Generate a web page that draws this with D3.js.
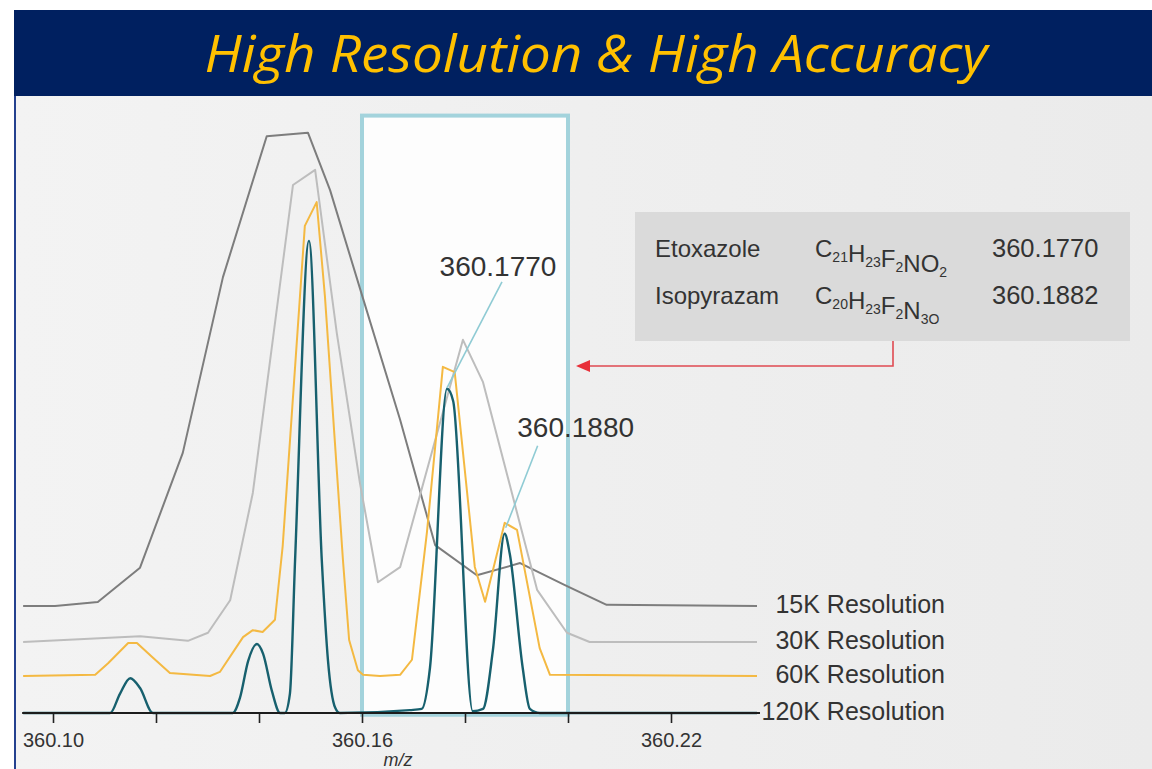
<!DOCTYPE html>
<html>
<head>
<meta charset="utf-8">
<script src="https://cdn.jsdelivr.net/npm/d3@7"></script>
<style>
    body { margin: 0; background: #ffffff; }
    svg { display: block; font-family: "Liberation Sans", Arial, sans-serif; }
</style>
</head>
<body>
<div id="chart"></div>
<script>
var svgWidth = 1152;
var svgHeight = 769;

// Series
var seriesNames = ["15K Resolution", "30K Resolution", "60K Resolution", "120K Resolution"];
var seriesOffsets = [18.45, 12.24, 6.38, 0];

var mz15 = [360.0942, 360.1004, 360.1087, 360.1169, 360.1252, 360.1330, 360.1415, 360.1495, 360.1538,
    360.1600, 360.1674, 360.1742, 360.1823, 360.1907, 360.1994, 360.2075, 360.2367];
var int15 = [0, 0, 0.7, 6.6, 26.4, 56.7, 81.0, 81.6, 71.7, 53.6, 32.1, 10.5, 5.3, 7.4, 3.6, 0.2, 0];

var mz30 = [360.0942, 360.1169, 360.1262, 360.1301, 360.1344, 360.1388, 360.1466, 360.1509, 360.1551,
    360.1596, 360.1631, 360.1674, 360.1796, 360.1835, 360.1940, 360.1998, 360.2042, 360.2367];
var int30 = [0, 1.0, 0.2, 1.6, 7.2, 25.7, 78.8, 81.4, 53.3, 27.4, 10.3, 12.9, 52.1, 44.8, 9.0, 1.6, 0, 0];

var mz60 = [360.0942, 360.1082, 360.1107, 360.1146, 360.1163, 360.1192, 360.1227, 360.1305, 360.1324,
    360.1369, 360.1388, 360.1407, 360.1431, 360.1446, 360.1489, 360.1512, 360.1528, 360.1563, 360.1575,
    360.1592, 360.1602, 360.1635, 360.1674, 360.1697, 360.1726, 360.1757, 360.1780, 360.1819, 360.1839,
    360.1877, 360.1901, 360.1945, 360.1965, 360.2367];
var int60 = [0, 0.2, 2.2, 5.7, 5.7, 3.3, 0.5, 0, 0.7, 6.7, 7.9, 7.6, 9.7, 22.4, 77.6, 81.7, 65.5, 20.0, 6.2,
    1.0, 0.2, 0, 0.2, 2.8, 24.7, 53.3, 52.4, 18.8, 12.8, 26.4, 25.2, 4.8, 0.2, 0];

var mz120 = [360.0942, 360.1111, 360.1130, 360.1150, 360.1169, 360.1194, 360.1349, 360.1363, 360.1379,
    360.1396, 360.1408, 360.1425, 360.1441, 360.1450, 360.1460, 360.1470, 360.1497, 360.1522, 360.1534,
    360.1548, 360.1557, 360.1693, 360.1716, 360.1732, 360.1765, 360.1777, 360.1815, 360.1835, 360.1854,
    360.1877, 360.1887, 360.1912, 360.1926, 360.1945, 360.2367];
var int120 = [0, 0, 3.3, 6.0, 4.3, 0, 0, 2.6, 9.0, 11.9, 10.2, 3.8, 0, 0, 3.3, 26.2, 81.4, 26.2, 9.0,
    0.9, 0, 0.5, 0.7, 7.8, 55.9, 53.8, 0.3, 0.7, 10.7, 30.9, 27.4, 7.8, 0.7, 0, 0];

// Axis ticks
var tickValues = [360.10, 360.12, 360.14, 360.16, 360.18, 360.20, 360.22];
var tickLabels = ["360.10", "", "", "360.16", "", "", "360.22"];

// Highlight window and peak labels
var windowMz = [360.16, 360.20];
var windowTop = 103;
var peakMz = [360.1765, 360.1877];
var peakInt = [55.9, 30.9];
var peakText = ["360.1770", "360.1880"];

// Compound table
var compounds = ["Etoxazole", "Isopyrazam"];
var formulas = [
    [["C", "21"], ["H", "23"], ["F", "2"], ["N", ""], ["O", "2"]],
    [["C", "20"], ["H", "23"], ["F", "2"], ["N", "3O"]]
];
var masses = ["360.1770", "360.1882"];

var colors = ["#7d7d7d", "#bdbdbd", "#f4b942", "#17606e"];

var series = [[mz15, int15], [mz30, int30], [mz60, int60], [mz120, int120]].map(function (s, i) {
    return {
        name: seriesNames[i],
        offset: seriesOffsets[i],
        values: s[0].map(function (m, j) { return { mz: m, v: s[1][j] }; })
    };
});

var svg = d3.select("#chart").append("svg")
    .attr("width", svgWidth)
    .attr("height", svgHeight);

var defs = svg.append("defs");
var grad = defs.append("linearGradient").attr("id", "bg").attr("x1", "0").attr("x2", "1");
grad.append("stop").attr("offset", "0%").attr("stop-color", "#f3f3f3");
grad.append("stop").attr("offset", "100%").attr("stop-color", "#ebebeb");

// Slide body + banner
svg.append("rect").attr("x", 14).attr("y", 96).attr("width", 1138).attr("height", 673).attr("fill", "url(#bg)");
svg.append("line").attr("x1", 15).attr("x2", 15).attr("y1", 96).attr("y2", 769)
    .attr("stroke", "#24418f").attr("stroke-width", 2);
svg.append("rect").attr("x", 14).attr("y", 10).attr("width", 1138).attr("height", 86).attr("fill", "#002060");
svg.append("text")
    .attr("x", 596).attr("y", 72)
    .attr("text-anchor", "middle")
    .attr("textLength", 783).attr("lengthAdjust", "spacingAndGlyphs")
    .style("font-family", "'Open Sans', 'Noto Sans', sans-serif")
    .style("font-style", "italic")
    .style("font-size", "52px")
    .style("fill", "#ffc000")
    .text("High Resolution & High Accuracy");

// Scales
var xScale = d3.scaleLinear().domain([360.10, 360.22]).range([53, 671]);
var yScale = d3.scaleLinear().domain([0, 100]).range([713, 133]);

// Highlight window
svg.append("rect")
    .attr("x", xScale(windowMz[0]))
    .attr("y", yScale(windowTop))
    .attr("width", xScale(windowMz[1]) - xScale(windowMz[0]))
    .attr("height", yScale(-0.3) - yScale(windowTop))
    .attr("fill", "#fdfdfd")
    .attr("stroke", "#a3d3dc")
    .attr("stroke-width", 4);

// Lines
var lineGroup = svg.append("g");
series.forEach(function (s, i) {
    var line = d3.line()
        .x(function (d) { return xScale(d.mz); })
        .y(function (d) { return yScale(s.offset + d.v); })
        .curve(i === 3 ? d3.curveMonotoneX : d3.curveLinear);
    lineGroup.append("path")
        .datum(s.values)
        .attr("d", line)
        .attr("fill", "none")
        .attr("stroke", colors[i])
        .attr("stroke-width", i === 3 ? 2.4 : 2)
        .attr("stroke-linejoin", "round");
});

// Axis
var bottomAxis = d3.axisBottom(xScale)
    .tickValues(tickValues)
    .tickSize(10)
    .tickPadding(10)
    .tickFormat(function (d, i) { return tickLabels[i]; });

var axisG = svg.append("g")
    .attr("transform", "translate(0," + yScale(0) + ")")
    .call(bottomAxis);
axisG.select(".domain").remove();
axisG.selectAll(".tick line").attr("stroke", "#222").attr("stroke-width", 1.6);
axisG.selectAll(".tick text")
    .style("font-family", "'Liberation Sans', Arial, sans-serif")
    .style("font-size", "20px")
    .style("fill", "#333");

svg.append("line")
    .attr("x1", xScale(mz120[0]) - 1).attr("x2", xScale(mz120[mz120.length - 1]) + 3)
    .attr("y1", yScale(0)).attr("y2", yScale(0))
    .attr("stroke", "#1c1c1c").attr("stroke-width", 2);

svg.append("text")
    .attr("x", 398).attr("y", 766)
    .attr("text-anchor", "middle")
    .style("font-style", "italic")
    .style("font-size", "18px")
    .style("fill", "#333")
    .text("m/z");

// Series labels
svg.selectAll(".series-label")
    .data(series)
    .enter()
    .append("text")
    .attr("class", "series-label")
    .attr("x", 945)
    .attr("y", function (d) { return yScale(d.offset) - 2; })
    .attr("dy", "0.36em")
    .attr("text-anchor", "end")
    .style("font-size", "25px")
    .style("fill", "#333")
    .text(function (d) { return d.name; });

// Peak callouts
var callout = [
    { lx: 51, ly: -113, sx: 55, sy: -107, ex: 0, ey: -1 },
    { lx: 71, ly: -97, sx: 33, sy: -88, ex: 1, ey: -6 }
];
peakMz.forEach(function (m, i) {
    var px = xScale(m), py = yScale(peakInt[i]);
    var c = callout[i];
    svg.append("line")
        .attr("x1", px + c.sx).attr("y1", py + c.sy)
        .attr("x2", px + c.ex).attr("y2", py + c.ey)
        .attr("stroke", "#8fcbd4").attr("stroke-width", 1.6);
    svg.append("text")
        .attr("x", px + c.lx).attr("y", py + c.ly)
        .attr("text-anchor", "middle")
        .style("font-size", "28px")
        .style("fill", "#333")
        .text(peakText[i]);
});

// Compound table
svg.append("rect").attr("x", 635).attr("y", 212).attr("width", 495).attr("height", 129).attr("fill", "#dadada");
var rowY = [257, 304];
compounds.forEach(function (name, i) {
    svg.append("text").attr("x", 655).attr("y", rowY[i])
        .style("font-size", "24px").style("fill", "#333").text(name);
    var f = svg.append("text").attr("x", 815).attr("y", rowY[i])
        .style("font-size", "24px").style("fill", "#333");
    formulas[i].forEach(function (p) {
        f.append("tspan").text(p[0]);
        if (p[1]) {
            f.append("tspan").attr("dy", 5).style("font-size", "14px").text(p[1]);
            f.append("tspan").attr("dy", -5).text("");
        }
    });
    svg.append("text").attr("x", 992).attr("y", rowY[i])
        .style("font-size", "25.5px").style("fill", "#333").text(masses[i]);
});

// Red arrow from table to window
var arrowY = 366;
svg.append("path")
    .attr("d", "M893,341 V" + arrowY + " H588")
    .attr("fill", "none")
    .attr("stroke", "#df4a52")
    .attr("stroke-width", 1.6);
svg.append("path")
    .attr("d", "M" + (xScale(windowMz[1]) + 8) + "," + arrowY + " l14,-6 v12 z")
    .attr("fill", "#e8303a");
</script>
</body>
</html>
